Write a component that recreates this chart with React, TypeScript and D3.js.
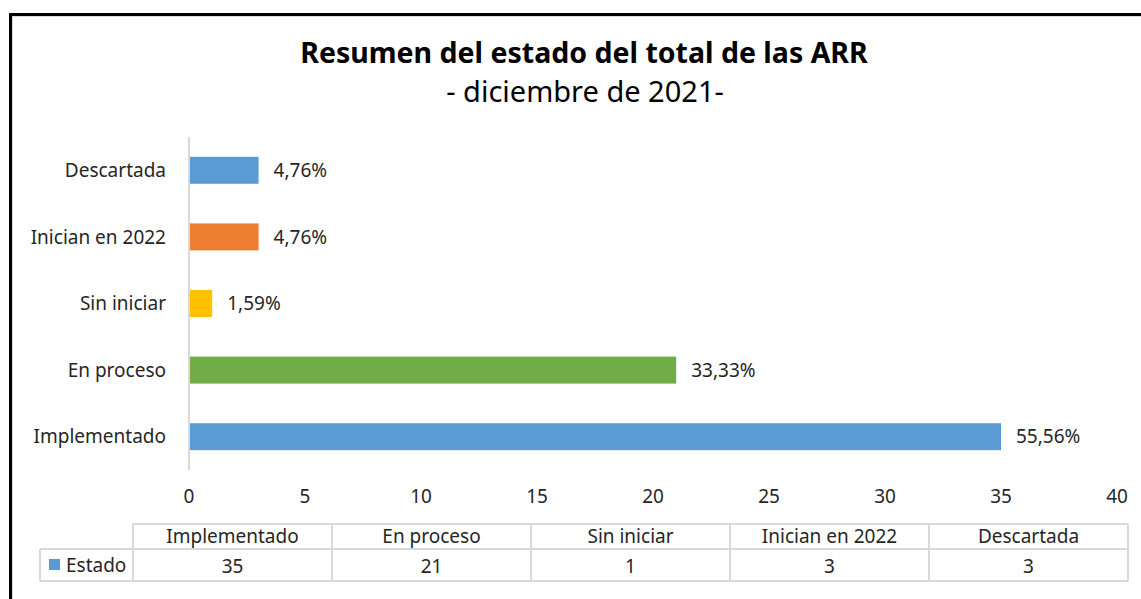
import React from "react";
import * as d3 from "d3";

const categories = ["Implementado", "En proceso", "Sin iniciar", "Inician en 2022", "Descartada"];
const values = [35, 21, 1, 3, 3];
const percentLabels = ["55,56%", "33,33%", "1,59%", "4,76%", "4,76%"];
const barColors = ["#5B9BD5", "#70AD47", "#FFC000", "#ED7D31", "#5B9BD5"];
const xTicks = [0, 5, 10, 15, 20, 25, 30, 35, 40];
const seriesName = "Estado";
const title = "Resumen del estado del total de las ARR";
const subtitle = "- diciembre de 2021-";

const W = 1141;
const H = 599;
const FONT = "'Noto Sans', sans-serif";
const TXT = "#262626";
const FS = 19;

export default function App() {
  const x = d3.scaleLinear().domain([0, 40]).range([189, 1117]);
  const y = d3
    .scaleBand<string>()
    .domain([...categories].reverse())
    .range([137, 470])
    .paddingInner(0.595)
    .paddingOuter(0.2975);

  const tableLeft = 133;
  const tableRight = 1128;
  const colW = (tableRight - tableLeft) / categories.length;
  const col = d3
    .scaleBand<string>()
    .domain(categories)
    .range([tableLeft, tableRight]);
  const rowTop = 524;
  const rowMid = 549;
  const rowBot = 581;
  const legendLeft = 40;
  const grid = "#d9d9d9";

  return (
    <svg
      width={W}
      height={H}
      style={{ position: "absolute", left: 0, top: 0, background: "#fff" }}
      fontFamily={FONT}
    >
      <rect x={0} y={0} width={W} height={H} fill="#fff" />
      <line x1={9} x2={W} y1={14.5} y2={14.5} stroke="#000" strokeWidth={3} />
      <line x1={10.5} x2={10.5} y1={13} y2={H} stroke="#000" strokeWidth={3} />
      <line x1={12} x2={W} y1={16.5} y2={16.5} stroke={grid} strokeWidth={1} />
      <line x1={12.5} x2={12.5} y1={16} y2={H} stroke={grid} strokeWidth={1} />

      <text x={584} y={63} textAnchor="middle" fontSize={28.5} fontWeight="bold" fill="#000">
        {title}
      </text>
      <text x={585} y={102} textAnchor="middle" fontSize={29} fill="#000">
        {subtitle}
      </text>

      <line x1={x(0)} x2={x(0)} y1={137} y2={470} stroke={grid} strokeWidth={2} />

      {categories.map((c, i) => (
        <g key={c}>
          <rect
            x={x(0) + 1}
            y={y(c)!}
            width={x(values[i]) - x(0) - 1}
            height={y.bandwidth()}
            fill={barColors[i]}
          />
          <text
            x={x(values[i]) + 15}
            y={y(c)! + y.bandwidth() / 2}
            dy="0.35em"
            fontSize={FS}
            fill={TXT}
          >
            {percentLabels[i]}
          </text>
          <text
            x={166}
            y={y(c)! + y.bandwidth() / 2}
            dy="0.35em"
            textAnchor="end"
            fontSize={FS}
            fill={TXT}
          >
            {c}
          </text>
        </g>
      ))}

      {xTicks.map((t) => (
        <text key={t} x={x(t)} y={503} textAnchor="middle" fontSize={FS} fill={TXT}>
          {t}
        </text>
      ))}

      <g stroke={grid} strokeWidth={2} fill="none">
        <line x1={tableLeft} x2={tableRight} y1={rowTop} y2={rowTop} />
        <line x1={legendLeft} x2={tableRight} y1={rowMid} y2={rowMid} />
        <line x1={legendLeft} x2={tableRight} y1={rowBot} y2={rowBot} />
        <line x1={legendLeft} x2={legendLeft} y1={rowMid} y2={rowBot} />
        {categories.map((c) => (
          <line key={c} x1={col(c)!} x2={col(c)!} y1={rowTop} y2={rowBot} />
        ))}
        <line x1={tableRight} x2={tableRight} y1={rowTop} y2={rowBot} />
      </g>
      {categories.map((c, i) => (
        <g key={c}>
          <text x={col(c)! + colW / 2} y={543} textAnchor="middle" fontSize={FS} fill={TXT}>
            {c}
          </text>
          <text x={col(c)! + colW / 2} y={573} textAnchor="middle" fontSize={FS} fill={TXT}>
            {values[i]}
          </text>
        </g>
      ))}
      <rect x={49} y={559} width={11} height={11} fill={barColors[0]} />
      <text x={66} y={572} fontSize={FS} fill={TXT}>
        {seriesName}
      </text>
    </svg>
  );
}
